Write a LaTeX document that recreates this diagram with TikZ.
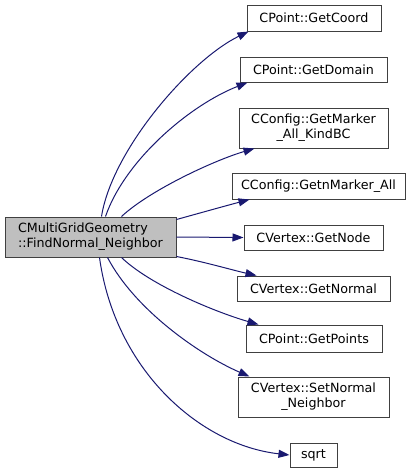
\documentclass[tikz,border=0pt]{standalone}
\usepackage{fontspec}
\setmainfont{DejaVu Sans}
\usetikzlibrary{arrows.meta}
\definecolor{edgec}{HTML}{191970}
\definecolor{bord}{HTML}{404040}
\definecolor{mainfill}{HTML}{BFBFBF}
\begin{document}
\begin{tikzpicture}[x=1pt,y=-1pt,
  box/.style={draw=bord, fill=white, line width=1pt, inner sep=0pt,
    font=\fontsize{12.7}{15}\selectfont, align=center},
  conn/.style={draw=edgec, line width=1pt, -{Triangle[length=11pt,width=8pt]}}]
\useasboundingbox (0,0) rectangle (409,475);
\node[box, fill=mainfill, align=left, minimum width=171pt, minimum height=40pt] (main) at (90.5,237) {CMultiGridGeometry\\::FindNormal\_Neighbor};
\node[box, minimum width=134pt, minimum height=26pt] (gc) at (314,18) {CPoint::GetCoord};
\node[box, minimum width=147pt, minimum height=25pt] (gd) at (313.5,69.5) {CPoint::GetDomain};
\node[box, minimum width=149pt, minimum height=40pt] (gm) at (313.5,128) {CConfig::GetMarker\\\_All\_KindBC};
\node[box, minimum width=173pt, minimum height=26pt] (gn) at (318.5,186) {CConfig::GetnMarker\_All};
\node[box, minimum width=139pt, minimum height=25pt] (gnode) at (313.5,237.5) {CVertex::GetNode};
\node[box, minimum width=153pt, minimum height=25pt] (gnorm) at (313.5,288.5) {CVertex::GetNormal};
\node[box, minimum width=136pt, minimum height=27pt] (gp) at (314,338.5) {CPoint::GetPoints};
\node[box, minimum width=151pt, minimum height=40pt] (sn) at (313.5,397) {CVertex::SetNormal\\\_Neighbor};
\node[box, minimum width=47pt, minimum height=24pt] (sq) at (313.5,455) {sqrt};

\draw[conn] ([xshift=97pt]main.north west) .. controls (112,150) and (190,60) .. ([xshift=2pt]gc.south west);
\draw[conn] ([xshift=101pt]main.north west) .. controls (125,160) and (190,105) .. ([xshift=8pt]gd.south west);
\draw[conn] ([xshift=117pt]main.north west) .. controls (150,190) and (215,160) .. ([xshift=16pt]gm.south west);
\draw[conn] ([yshift=-3pt]main.north east) .. controls (200,213) and (225,206) .. ([xshift=18pt]gn.south west);
\draw[conn] (main.east) -- (gnode.west);
\draw[conn] ([yshift=1pt]main.south east) .. controls (205,262) and (232,270) .. ([xshift=20pt]gnorm.north west);
\draw[conn] ([xshift=117pt]main.south west) .. controls (150,285) and (215,312) .. ([xshift=13pt]gp.north west);
\draw[conn] ([xshift=103pt]main.south west) .. controls (135,310) and (200,355) .. ([xshift=12pt]sn.north west);
\draw[conn] ([xshift=95pt]main.south west) .. controls (115,370) and (200,445) .. (sq.west);
\end{tikzpicture}
\end{document}
